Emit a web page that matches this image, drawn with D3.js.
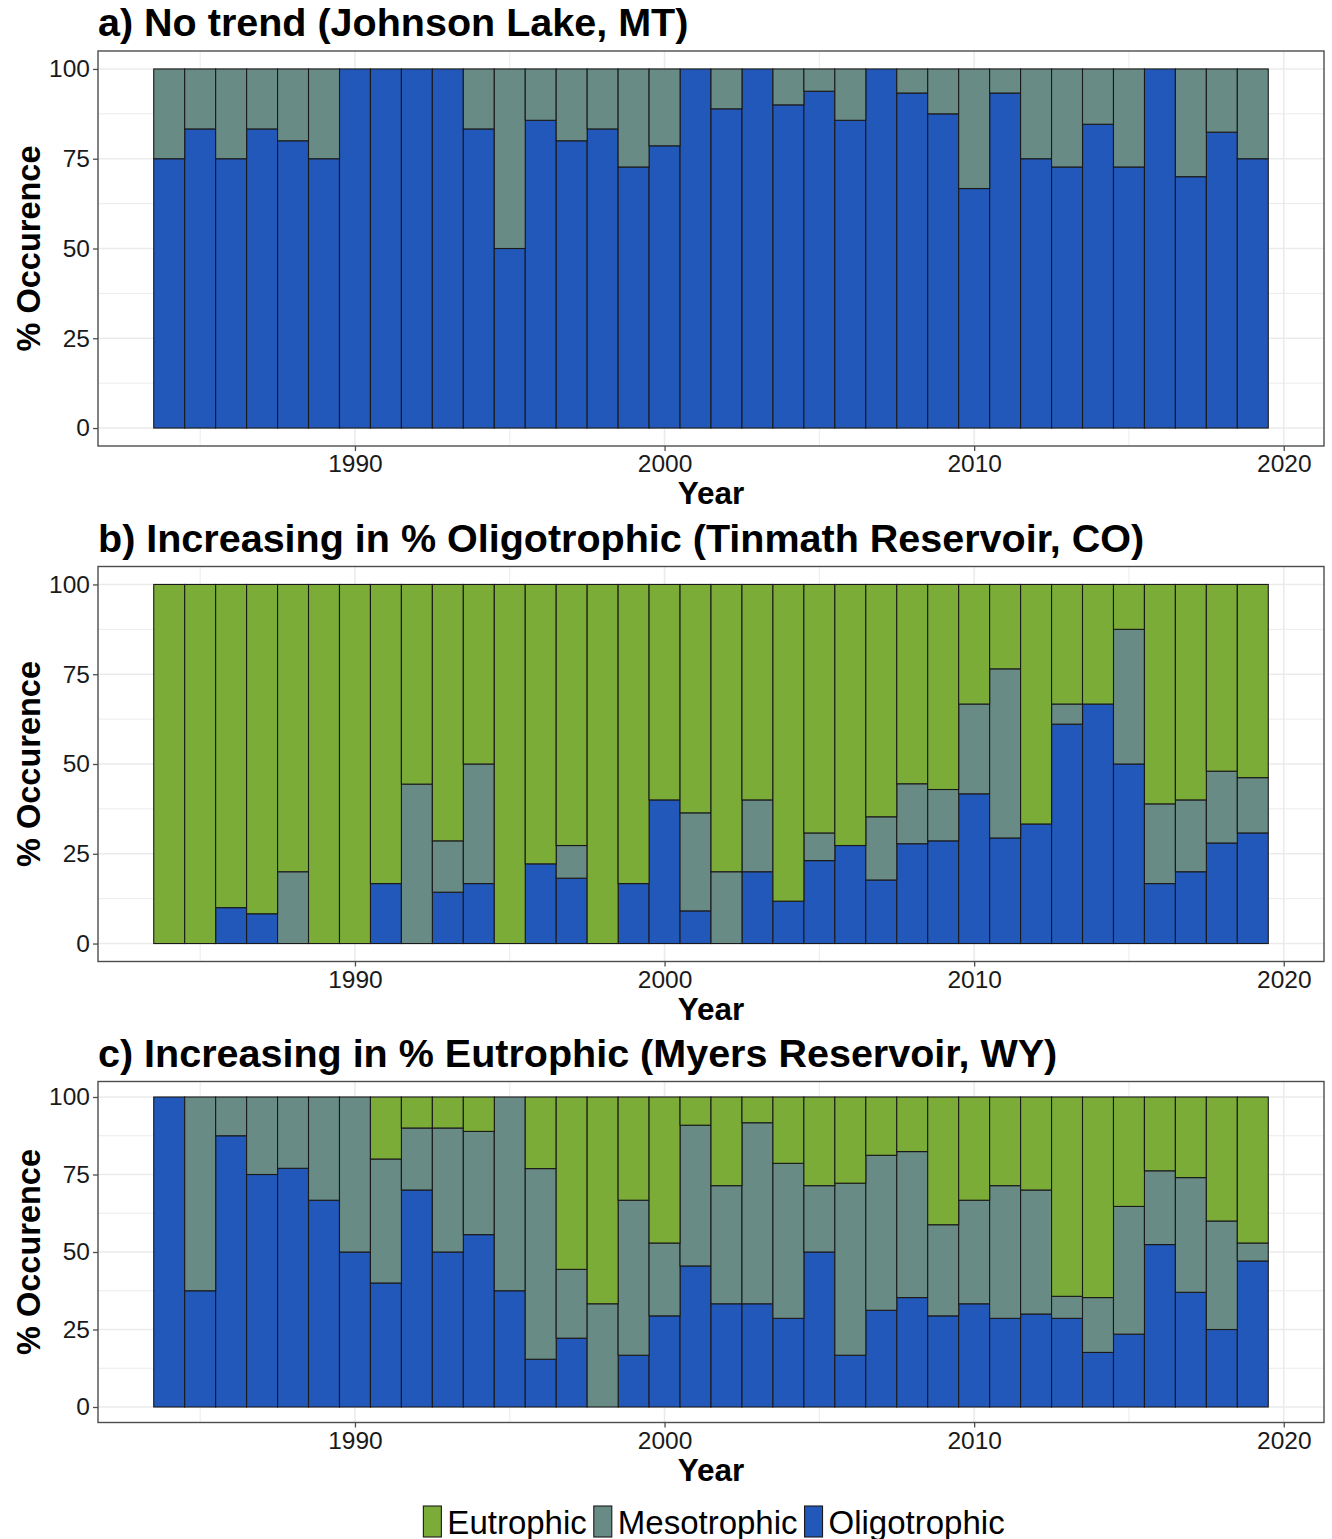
<!DOCTYPE html>
<html>
<head>
<meta charset="utf-8">
<script src="https://cdn.jsdelivr.net/npm/d3@7"></script>
<style>
  html, body { margin: 0; padding: 0; background: #fff; }
  svg { display: block; font-family: "Liberation Sans", Arial, Helvetica, sans-serif; }
</style>
</head>
<body>
<svg id="chart" width="1332" height="1539"></svg>
<script>
// Sampling years shared by every panel
const years = [1984, 1985, 1986, 1987, 1988, 1989, 1990, 1991, 1992, 1993,
               1994, 1995, 1996, 1997, 1998, 1999, 2000, 2001, 2002, 2003,
               2004, 2005, 2006, 2007, 2008, 2009, 2010, 2011, 2012, 2013,
               2014, 2015, 2016, 2017, 2018, 2019];

const trophicStates = ["Eutrophic", "Mesotrophic", "Oligotrophic"];
const stateColors = ["#7cac38", "#698b85", "#2158ba"];

const xTickYears = [1990, 2000, 2010, 2020];
const yTickValues = [0, 25, 50, 75, 100];

// a) Johnson Lake, MT — % occurrence per year
const johnsonOligo = [75, 83.3, 75, 83.3, 80, 75, 100, 100, 100, 100,
                      83.3, 50, 85.7, 80, 83.3, 72.7, 78.6, 100, 88.9, 100,
                      90, 93.8, 85.7, 100, 93.3, 87.5, 66.7, 93.3, 75, 72.7,
                      84.6, 72.7, 100, 70, 82.4, 75];
const johnsonMeso  = [25, 16.7, 25, 16.7, 20, 25, 0, 0, 0, 0,
                      16.7, 50, 14.3, 20, 16.7, 27.3, 21.4, 0, 11.1, 0,
                      10, 6.2, 14.3, 0, 6.7, 12.5, 33.3, 6.7, 25, 27.3,
                      15.4, 27.3, 0, 30, 17.6, 25];
const johnsonEutro = [0, 0, 0, 0, 0, 0, 0, 0, 0, 0,
                      0, 0, 0, 0, 0, 0, 0, 0, 0, 0,
                      0, 0, 0, 0, 0, 0, 0, 0, 0, 0,
                      0, 0, 0, 0, 0, 0];

// b) Tinmath Reservoir, CO
const tinmathOligo = [0, 0, 10, 8.3, 0, 0, 0, 16.7, 0, 14.3,
                      16.7, 0, 22.2, 18.2, 0, 16.7, 40, 9.1, 0, 20,
                      11.8, 23.1, 27.3, 17.7, 27.8, 28.6, 41.7, 29.4, 33.3, 61.1,
                      66.7, 50, 16.7, 20, 28, 30.8];
const tinmathMeso  = [0, 0, 0, 0, 20, 0, 0, 0, 44.4, 14.3,
                      33.3, 0, 0, 9.1, 0, 0, 0, 27.3, 20, 20,
                      0, 7.7, 0, 17.6, 16.7, 14.3, 25, 47.1, 0, 5.6,
                      0, 37.5, 22.2, 20, 20, 15.4];
const tinmathEutro = [100, 100, 90, 91.7, 80, 100, 100, 83.3, 55.6, 71.4,
                      50, 100, 77.8, 72.7, 100, 83.3, 60, 63.6, 80, 60,
                      88.2, 69.2, 72.7, 64.7, 55.5, 57.1, 33.3, 23.5, 66.7, 33.3,
                      33.3, 12.5, 61.1, 60, 52, 53.8];

// c) Myers Reservoir, WY
const myersOligo = [100, 37.5, 87.5, 75, 77, 66.7, 50, 40, 70, 50,
                    55.6, 37.5, 15.4, 22.2, 0, 16.7, 29.4, 45.5, 33.3, 33.3,
                    28.6, 50, 16.7, 31.2, 35.3, 29.4, 33.3, 28.6, 30, 28.6,
                    17.6, 23.5, 52.4, 37, 25, 47.1];
const myersMeso  = [0, 62.5, 12.5, 25, 23, 33.3, 50, 40, 20, 40,
                    33.3, 62.5, 61.5, 22.2, 33.3, 50, 23.5, 45.4, 38.1, 58.4,
                    50, 21.4, 55.5, 50, 47.1, 29.4, 33.4, 42.8, 40, 7.1,
                    17.7, 41.2, 23.8, 37, 35, 5.8];
const myersEutro = [0, 0, 0, 0, 0, 0, 0, 20, 10, 10,
                    11.1, 0, 23.1, 55.6, 66.7, 33.3, 47.1, 9.1, 28.6, 8.3,
                    21.4, 28.6, 27.8, 18.8, 17.6, 41.2, 33.3, 28.6, 30, 64.3,
                    64.7, 35.3, 23.8, 26, 40, 47.1];

const panelTitles = [
  "a) No trend (Johnson Lake, MT)",
  "b) Increasing in % Oligotrophic (Tinmath Reservoir, CO)",
  "c) Increasing in % Eutrophic (Myers Reservoir, WY)"
];

const panelSeries = [
  [johnsonEutro, johnsonMeso, johnsonOligo],
  [tinmathEutro, tinmathMeso, tinmathOligo],
  [myersEutro, myersMeso, myersOligo]
];

// Panel frames (top edge and height of each plotting box)
const frames = [
  { top: 51, height: 395 },
  { top: 566.5, height: 395 },
  { top: 1081.5, height: 341 }
];
const left = 98, right = 1324;

const svg = d3.select("#chart");
svg.append("rect").attr("width", 1332).attr("height", 1539).attr("fill", "#fff");

const colorOf = d3.scaleOrdinal().domain(trophicStates).range(stateColors);

// Continuous year axis with ggplot-style 5% expansion around the bar extent
const xMin = years[0] - 0.5, xMax = years[years.length - 1] + 0.5;
const xPad = (xMax - xMin) * 0.05;
const x = d3.scaleLinear().domain([xMin - xPad, xMax + xPad]).range([left, right]);

const stackOrder = ["Oligotrophic", "Mesotrophic", "Eutrophic"];

panelSeries.forEach((series, p) => {
  const fr = frames[p];
  const y = d3.scaleLinear().domain([-5, 105]).range([fr.top + fr.height, fr.top]);
  const g = svg.append("g");

  // grid: minor then major
  const minorX = [1985, 1995, 2005, 2015];
  const minorY = [12.5, 37.5, 62.5, 87.5];
  g.selectAll(".mx").data(minorX).join("line")
    .attr("x1", d => x(d)).attr("x2", d => x(d))
    .attr("y1", fr.top).attr("y2", fr.top + fr.height)
    .attr("stroke", "#ebebeb").attr("stroke-width", 1);
  g.selectAll(".my").data(minorY).join("line")
    .attr("x1", left).attr("x2", right)
    .attr("y1", d => y(d)).attr("y2", d => y(d))
    .attr("stroke", "#ebebeb").attr("stroke-width", 1);
  g.selectAll(".gx").data(xTickYears).join("line")
    .attr("x1", d => x(d)).attr("x2", d => x(d))
    .attr("y1", fr.top).attr("y2", fr.top + fr.height)
    .attr("stroke", "#ebebeb").attr("stroke-width", 1.6);
  g.selectAll(".gy").data(yTickValues).join("line")
    .attr("x1", left).attr("x2", right)
    .attr("y1", d => y(d)).attr("y2", d => y(d))
    .attr("stroke", "#ebebeb").attr("stroke-width", 1.6);

  // stacked bars
  const rows = years.map((yr, i) => ({
    year: yr,
    Eutrophic: series[0][i],
    Mesotrophic: series[1][i],
    Oligotrophic: series[2][i]
  }));
  const stacked = d3.stack().keys(stackOrder)(rows);
  stacked.forEach(layer => {
    g.append("g").selectAll("rect")
      .data(layer.filter(d => d[1] - d[0] > 0))
      .join("rect")
      .attr("x", d => x(d.data.year - 0.5))
      .attr("width", d => x(d.data.year + 0.5) - x(d.data.year - 0.5))
      .attr("y", d => y(d[1]))
      .attr("height", d => y(d[0]) - y(d[1]))
      .attr("fill", colorOf(layer.key))
      .attr("stroke", "#1a1a1a")
      .attr("stroke-width", 1.1);
  });

  // panel border
  g.append("rect")
    .attr("x", left).attr("y", fr.top)
    .attr("width", right - left).attr("height", fr.height)
    .attr("fill", "none").attr("stroke", "#4d4d4d").attr("stroke-width", 1.4);

  // axes
  const yAxis = g.append("g").attr("transform", `translate(${left},0)`)
    .call(d3.axisLeft(y).tickValues(yTickValues).tickSize(5).tickPadding(3));
  const xAxis = g.append("g").attr("transform", `translate(0,${fr.top + fr.height})`)
    .call(d3.axisBottom(x).tickValues(xTickYears).tickFormat(d3.format("d")).tickSize(5));
  [yAxis, xAxis].forEach(ax => {
    ax.select(".domain").remove();
    ax.selectAll(".tick line").attr("stroke", "#4d4d4d").attr("stroke-width", 1.3);
    ax.selectAll(".tick text").attr("fill", "#1a1a1a")
      .style("font-size", "24.5px").style("font-family", "'Liberation Sans', Arial, sans-serif");
  });
  xAxis.selectAll(".tick text").attr("y", 26).attr("dy", 0);

  // axis titles
  g.append("text")
    .attr("x", (left + right) / 2).attr("y", fr.top + fr.height + 58)
    .attr("text-anchor", "middle").attr("font-weight", "bold")
    .attr("font-size", 31.5).attr("fill", "#000").text("Year");
  g.append("text")
    .attr("transform", `translate(39.5,${fr.top + fr.height / 2}) rotate(-90)`)
    .attr("text-anchor", "middle").attr("font-weight", "bold")
    .attr("font-size", 32.5).attr("fill", "#000").text("% Occurence");

  // panel title
  g.append("text")
    .attr("x", left).attr("y", fr.top - 15)
    .attr("font-weight", "bold").attr("font-size", 39.5).attr("fill", "#000")
    .text(panelTitles[p]);
});

// legend along the bottom, centred under the panels
const legend = svg.append("g");
const keyW = 18, keyH = 31, gapKeyText = 6, gapItem = 7;
const legendMidY = 1521.5;
let cursor = 0;
const items = trophicStates.map((name, i) => {
  const it = legend.append("g");
  it.append("rect")
    .attr("x", 0).attr("y", legendMidY - keyH / 2)
    .attr("width", keyW).attr("height", keyH)
    .attr("fill", stateColors[i]).attr("stroke", "#1a1a1a").attr("stroke-width", 1.1);
  const t = it.append("text")
    .attr("x", keyW + gapKeyText).attr("y", legendMidY + 12)
    .attr("font-size", 33).attr("fill", "#000").text(name);
  const w = keyW + gapKeyText + t.node().getComputedTextLength();
  it.attr("transform", `translate(${cursor},0)`);
  cursor += w + gapItem;
  return it;
});
const legendWidth = cursor - gapItem;
legend.attr("transform", `translate(${714 - legendWidth / 2},0)`);
</script>
</body>
</html>
